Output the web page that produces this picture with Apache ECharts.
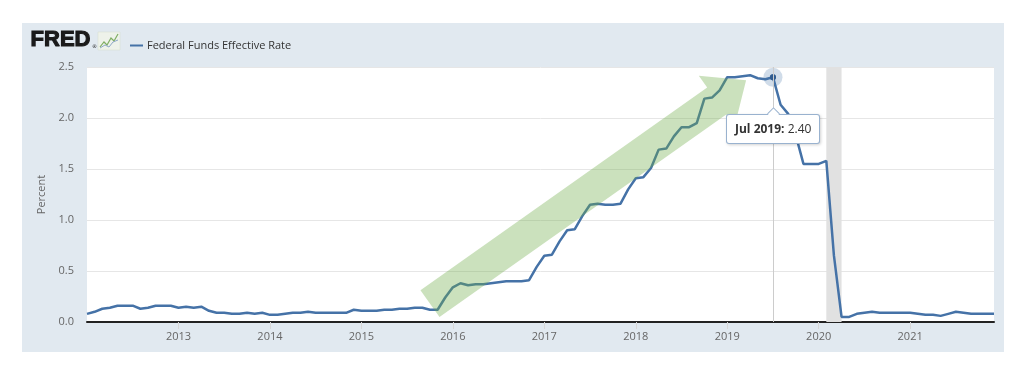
<!DOCTYPE html>
<html>
<head>
<meta charset="utf-8">
<script src="https://cdn.jsdelivr.net/npm/echarts@6/dist/echarts.min.js"></script>
<style>
html,body{margin:0;padding:0;background:#fff;}
#chart{width:1024px;height:367px;}
</style>
</head>
<body>
<div id="chart"></div>
<script>
// ---- data ----
const years = [2012, 2013, 2014, 2015, 2016, 2017, 2018, 2019, 2020, 2021];
const monthNames = ['Jan','Feb','Mar','Apr','May','Jun','Jul','Aug','Sep','Oct','Nov','Dec'];
const categories = [];
years.forEach(y => { for (let m = 1; m <= 12; m++) categories.push(y + '-' + (m < 10 ? '0' + m : '' + m)); });

const rates = [
  0.08, 0.10, 0.13, 0.14, 0.16, 0.16, 0.16, 0.13, 0.14, 0.16, 0.16, 0.16, // 2012
  0.14, 0.15, 0.14, 0.15, 0.11, 0.09, 0.09, 0.08, 0.08, 0.09, 0.08, 0.09, // 2013
  0.07, 0.07, 0.08, 0.09, 0.09, 0.10, 0.09, 0.09, 0.09, 0.09, 0.09, 0.12, // 2014
  0.11, 0.11, 0.11, 0.12, 0.12, 0.13, 0.13, 0.14, 0.14, 0.12, 0.12, 0.24, // 2015
  0.34, 0.38, 0.36, 0.37, 0.37, 0.38, 0.39, 0.40, 0.40, 0.40, 0.41, 0.54, // 2016
  0.65, 0.66, 0.79, 0.90, 0.91, 1.04, 1.15, 1.16, 1.15, 1.15, 1.16, 1.30, // 2017
  1.41, 1.42, 1.51, 1.69, 1.70, 1.82, 1.91, 1.91, 1.95, 2.19, 2.20, 2.27, // 2018
  2.40, 2.40, 2.41, 2.42, 2.39, 2.38, 2.40, 2.13, 2.04, 1.83, 1.55, 1.55, // 2019
  1.55, 1.58, 0.65, 0.05, 0.05, 0.08, 0.09, 0.10, 0.09, 0.09, 0.09, 0.09, // 2020
  0.09, 0.08, 0.07, 0.07, 0.06, 0.08, 0.10, 0.09, 0.08, 0.08, 0.08, 0.08  // 2021
];
const yTicks = [0, 0.5, 1.0, 1.5, 2.0, 2.5];
const recession = ['2020-02', '2020-04'];
const highlighted = '2019-07';
const arrowFrom = ['2015-10', 0.18];
const arrowTo = ['2019-04', 2.37];
const seriesName = 'Federal Funds Effective Rate';

// ---- chart ----
const chart = echarts.init(document.getElementById('chart'), null, {renderer: 'canvas'});
const FONT = '"Open Sans", "DejaVu Sans", sans-serif';
const BLUE = '#4572a7';

const option = {
  animation: false,
  backgroundColor: '#ffffff',
  textStyle: {fontFamily: FONT},
  grid: {left: 87, right: 30, top: 67, bottom: 45, show: true, backgroundColor: '#ffffff', borderWidth: 0},
  legend: {
    left: 125, top: 35,
    icon: 'rect', itemWidth: 13, itemHeight: 2, itemGap: 5,
    textStyle: {fontFamily: FONT, fontSize: 11, color: '#333', padding: [0, 0, 0, -1]},
    data: [seriesName]
  },
  tooltip: {
    trigger: 'axis',
    triggerOn: 'none',
    alwaysShowContent: true,
    transitionDuration: 0,
    backgroundColor: '#ffffff',
    borderColor: 'rgba(69,114,167,0.55)',
    borderWidth: 1,
    borderRadius: 3,
    padding: [6, 8],
    extraCssText: 'box-shadow: 1px 1px 3px rgba(0,0,0,0.18);',
    textStyle: {fontFamily: FONT, fontSize: 12, color: '#333'},
    axisPointer: {type: 'line', lineStyle: {color: '#cccccc', width: 1, type: 'solid'}},
    position: function (point, params, dom, rect, size) {
      return [point[0] - size.contentSize[0] / 2, point[1] + 37];
    },
    formatter: function (params) {
      const p = params[0];
      const parts = p.axisValue.split('-');
      const label = monthNames[parseInt(parts[1], 10) - 1] + ' ' + parts[0];
      return '<div style="position:relative;line-height:16px;">' +
        '<div style="position:absolute;left:50%;top:-12px;width:8px;height:8px;margin-left:-4px;background:#fff;' +
        'border-left:1px solid rgba(69,114,167,0.55);border-top:1px solid rgba(69,114,167,0.55);transform:rotate(45deg);"></div>' +
        '<b>' + label + ':</b> ' + Number(p.value).toFixed(2) + '</div>';
    }
  },
  xAxis: {
    type: 'category',
    data: categories,
    boundaryGap: false,
    axisLine: {show: true, lineStyle: {color: '#222', width: 2}},
    axisTick: {
      show: true, length: 7,
      interval: function (i) { return i > 0 && i % 12 === 0; },
      lineStyle: {color: '#d8d8d8', width: 1}
    },
    axisLabel: {
      interval: function (i) { return i > 0 && i % 12 === 0; },
      formatter: function (v) { return v.split('-')[0]; },
      color: '#666', fontSize: 11, fontFamily: FONT, margin: 9
    },
    splitLine: {show: false}
  },
  yAxis: {
    type: 'value',
    min: yTicks[0], max: yTicks[yTicks.length - 1], interval: 0.5,
    name: 'Percent',
    nameLocation: 'middle',
    nameRotate: 90,
    nameGap: 40,
    nameTextStyle: {color: '#666', fontSize: 11, fontFamily: FONT},
    axisLine: {show: false},
    axisTick: {show: false},
    axisLabel: {color: '#666', fontSize: 11, fontFamily: FONT, margin: 13, formatter: v => v.toFixed(1)},
    splitLine: {show: true, lineStyle: {color: '#e6e6e6', width: 1}}
  },
  series: [{
    name: seriesName,
    type: 'line',
    data: rates,
    showSymbol: false,
    symbol: 'circle',
    symbolSize: 5,
    color: BLUE,
    lineStyle: {color: BLUE, width: 2.5},
    itemStyle: {color: BLUE},
    emphasis: {disabled: true},
    markArea: {
      silent: true,
      itemStyle: {color: '#e1e1e1'},
      data: [[{xAxis: recession[0]}, {xAxis: recession[1]}]]
    },
    markPoint: {
      silent: true,
      animation: false,
      label: {show: false},
      data: [
        {coord: [highlighted, rates[categories.indexOf(highlighted)]], symbol: 'circle', symbolSize: 19,
         itemStyle: {color: 'rgba(69,114,167,0.25)'}},
        {coord: [highlighted, rates[categories.indexOf(highlighted)]], symbol: 'circle', symbolSize: 6,
         itemStyle: {color: '#2f5b8f'}}
      ]
    }
  }]
};
chart.setOption(option);

// ---- decorations: panel, logo, annotation arrow ----
function arrowPoints() {
  const a = chart.convertToPixel({gridIndex: 0}, arrowFrom);
  const b = chart.convertToPixel({gridIndex: 0}, arrowTo);
  b[0] -= 4;
  const dx = b[0] - a[0], dy = b[1] - a[1];
  const len = Math.sqrt(dx * dx + dy * dy);
  const ux = dx / len, uy = dy / len;
  const px = -uy, py = ux;
  const w = 16.5, W = 31, H = 36;
  const bx = b[0] - ux * H, by = b[1] - uy * H;
  return [
    [a[0] + px * w, a[1] + py * w],
    [bx + px * w, by + py * w],
    [bx + px * W, by + py * W],
    [b[0], b[1]],
    [bx - px * W, by - py * W],
    [bx - px * w, by - py * w],
    [a[0] - px * w, a[1] - py * w]
  ];
}

chart.setOption({
  graphic: [
    {type: 'rect', z: -10, silent: true, shape: {x: 22, y: 23, width: 982, height: 329},
     style: {fill: '#e1e9f0'}},
    {type: 'text', z: 10, left: 30, top: 28,
     style: {text: 'FRED', fill: '#1a1a1a', stroke: '#1a1a1a', lineWidth: 1.1,
             font: 'bold 22px "Liberation Sans", Arial, sans-serif'}},
    {type: 'text', z: 10, left: 92, top: 44,
     style: {text: '®', fill: '#1a1a1a', font: '5px "DejaVu Sans", sans-serif'}},
    {type: 'rect', z: 10, shape: {x: 98, y: 32, width: 22, height: 18},
     style: {fill: '#eef2ea', stroke: '#d5dccf', lineWidth: 0.5}},
    {type: 'polyline', z: 11, shape: {points: [[100, 47], [104, 42], [107, 45], [111, 38], [114, 41], [118, 34]]},
     style: {stroke: '#7fae63', lineWidth: 1.2, fill: null}},
    {type: 'polyline', z: 11, shape: {points: [[100, 48], [105, 45], [109, 47], [113, 42], [118, 40]]},
     style: {stroke: '#8fa9c9', lineWidth: 1, fill: null}},
    {type: 'polygon', z: 50, silent: true, shape: {points: arrowPoints()},
     style: {fill: 'rgba(112,173,71,0.36)'}}
  ]
});

chart.dispatchAction({type: 'showTip', seriesIndex: 0, dataIndex: categories.indexOf(highlighted)});
</script>
</body>
</html>
